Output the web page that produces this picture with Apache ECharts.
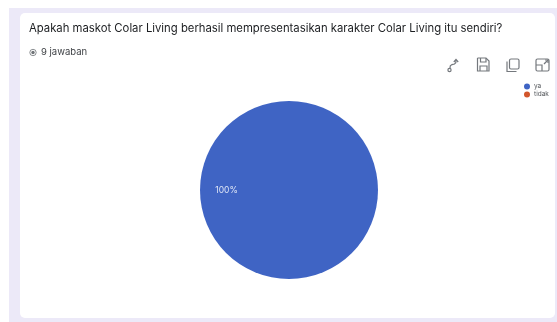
<!DOCTYPE html>
<html>
<head>
<meta charset="utf-8">
<style>
html,body{margin:0;padding:0;background:#fff;overflow:hidden}
#chart{width:557px;height:322px}
</style>
<script src="https://cdn.jsdelivr.net/npm/echarts@6/dist/echarts.min.js"></script>
</head>
<body>
<div id="chart"></div>
<script>
const categories = ['ya', 'tidak'];
const responses = [9, 0];
const sliceColors = ['#3f64c4', '#d2562b'];
const questionText = 'Apakah maskot Colar Living berhasil mempresentasikan karakter Colar Living itu sendiri?';
const answerCount = '9 jawaban';

const FONT = 'Inter, "Noto Sans", sans-serif';
const ICON = '#74787d';
const iconStyle = { fill: 'none', stroke: ICON, lineWidth: 1.2 };

function stroke(points) {
  return { type: 'polyline', silent: true, shape: { points }, style: iconStyle };
}
function box(x, y, width, height) {
  return { type: 'rect', silent: true, shape: { x, y, width, height, r: 1.5 }, style: iconStyle };
}

// Toolbar glyphs above the legend: move, save, copy, expand
const toolbar = [
  { type: 'circle', silent: true, shape: { cx: 449.500, cy: 70, r: 1.600 }, style: iconStyle },
  stroke([[450, 68], [450.300, 65.800], [452, 64.600], [454.500, 64], [455.800, 62.800], [456, 60]]),
  stroke([[453.800, 62], [456, 59.500], [458.200, 62]]),

  stroke([[477.500, 58], [486, 58], [489, 61], [489, 71], [477.500, 71], [477.500, 58]]),
  stroke([[480.500, 58], [480.500, 62], [486, 62], [486, 58]]),
  stroke([[480, 71], [480, 66], [487, 66], [487, 71]]),

  box(509.500, 59, 9.500, 10),
  stroke([[507, 61.500], [507, 71.500], [516.500, 71.500]]),

  box(536, 59, 13, 12),
  stroke([[536, 65], [542, 65], [542, 71]]),
  stroke([[544, 64], [548, 60]]),
  stroke([[545, 60], [548, 60], [548, 63]])
];

const chart = echarts.init(document.getElementById('chart'), null, { renderer: 'canvas' });

chart.setOption({
  animation: false,
  backgroundColor: '#ffffff',
  graphic: [
    { type: 'rect', silent: true, z: -2, shape: { x: 9, y: 8, width: 548, height: 314 }, style: { fill: '#ece9f8' } },
    { type: 'rect', silent: true, z: -1, shape: { x: 20, y: 13, width: 535, height: 305, r: 5 }, style: { fill: '#ffffff' } },
    { type: 'circle', silent: true, shape: { cx: 33, cy: 52.500, r: 3.200 }, style: { fill: 'none', stroke: '#6f7377', lineWidth: 0.8 } },
    { type: 'circle', silent: true, shape: { cx: 33, cy: 52.500, r: 1.700 }, style: { fill: '#6f7377' } },
    { type: 'text', silent: true, x: 41, y: 47, style: { text: answerCount, font: '400 9.5px ' + FONT, fill: '#3c3f43' } },
    ...toolbar
  ],
  title: {
    text: questionText,
    left: 29,
    top: 23,
    padding: 0,
    textStyle: { fontFamily: FONT, fontSize: 11.3, fontWeight: 400, color: '#1c1e21' }
  },
  legend: {
    orient: 'vertical',
    left: 524,
    top: 83,
    itemWidth: 6,
    itemHeight: 6,
    itemGap: 1,
    icon: 'circle',
    padding: 0,
    data: categories,
    textStyle: { fontFamily: FONT, fontSize: 6.5, color: '#55585c', padding: [0, 0, 0, -1] }
  },
  series: [{
    type: 'pie',
    center: [289, 190],
    radius: 89,
    startAngle: 360,
    silent: true,
    stillShowZeroSum: true,
    labelLine: { show: false },
    label: {
      show: true,
      position: 'inner',
      formatter: '{d}%',
      color: '#dfe6f6',
      fontFamily: FONT,
      fontSize: 8.5
    },
    labelLayout: { dx: -15 },
    data: categories.map((name, i) => ({
      name,
      value: responses[i],
      itemStyle: { color: sliceColors[i] },
      label: { show: responses[i] > 0 }
    }))
  }]
});
</script>
</body>
</html>
